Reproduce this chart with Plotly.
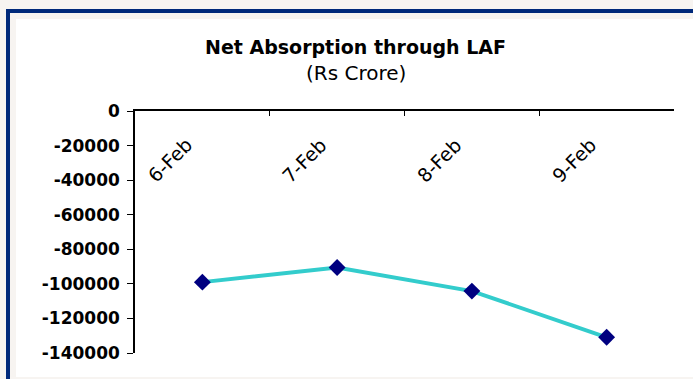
import plotly.graph_objects as go

categories = ["6-Feb", "7-Feb", "8-Feb", "9-Feb"]
values = [-99000, -90500, -104200, -130900]
y_ticks = [0, -20000, -40000, -60000, -80000, -100000, -120000, -140000]
title_text = "Net Absorption through LAF"
subtitle_text = "(Rs Crore)"

W, H = 693, 379
L, R, T, B = 135, 674, 111, 353


def px(x):
    return (x - L) / (R - L)


def py(y):
    return (B - y) / (B - T)


FONT = "DejaVu Sans"
NAVY = "#00297A"
OFF = "#F7F4F1"

fig = go.Figure()
fig.add_trace(go.Scatter(
    x=categories, y=values, mode="lines+markers",
    line=dict(color="#33CCCC", width=4),
    marker=dict(symbol="diamond", size=13, color="#000080"),
    showlegend=False,
))

shapes = [
    dict(type="rect", xref="paper", yref="paper", x0=px(16), x1=px(700), y0=py(377), y1=py(19),
         fillcolor="white", line=dict(width=0), layer="below"),
    dict(type="rect", xref="paper", yref="paper", x0=px(6), x1=px(700), y0=py(13), y1=py(9),
         fillcolor=NAVY, line=dict(width=0), layer="below"),
    dict(type="rect", xref="paper", yref="paper", x0=px(6), x1=px(10), y0=py(385), y1=py(9),
         fillcolor=NAVY, line=dict(width=0), layer="below"),
]

annotations = [
    dict(text=title_text, xref="paper", yref="paper", x=px(355), y=py(47), xanchor="center",
         yanchor="middle", showarrow=False, font=dict(family=FONT, size=19, color="black", weight="bold")),
    dict(text=subtitle_text, xref="paper", yref="paper", x=px(356), y=py(73), xanchor="center",
         yanchor="middle", showarrow=False, font=dict(family=FONT, size=20, color="black")),
]
for c in categories:
    annotations.append(dict(text=c, x=c, y=0, xref="x", yref="y", xanchor="right", yanchor="top",
                            textangle=-45, showarrow=False, xshift=-3, yshift=-20,
                            font=dict(family=FONT, size=19, color="black")))

fig.update_layout(
    width=W, height=H,
    margin=dict(l=L, r=W - R, t=T, b=H - B, pad=0),
    paper_bgcolor=OFF, plot_bgcolor="white",
    shapes=shapes, annotations=annotations,
    xaxis=dict(type="category", side="top", showticklabels=False, tickson="boundaries",
               ticks="inside", ticklen=5, tickcolor="black", showline=True, linecolor="black",
               linewidth=1.5, showgrid=False, zeroline=False, range=[-0.5, 3.5]),
    yaxis=dict(range=[-140000, 0], tickvals=y_ticks, ticktext=[str(v) for v in y_ticks],
               ticks="outside", ticklen=6, tickcolor="black", showline=True, linecolor="black",
               linewidth=1.5, showgrid=False, zeroline=False, ticklabelstandoff=4,
               tickfont=dict(family=FONT, size=17, color="black", weight="bold")),
)

fig.write_html("out.html")
